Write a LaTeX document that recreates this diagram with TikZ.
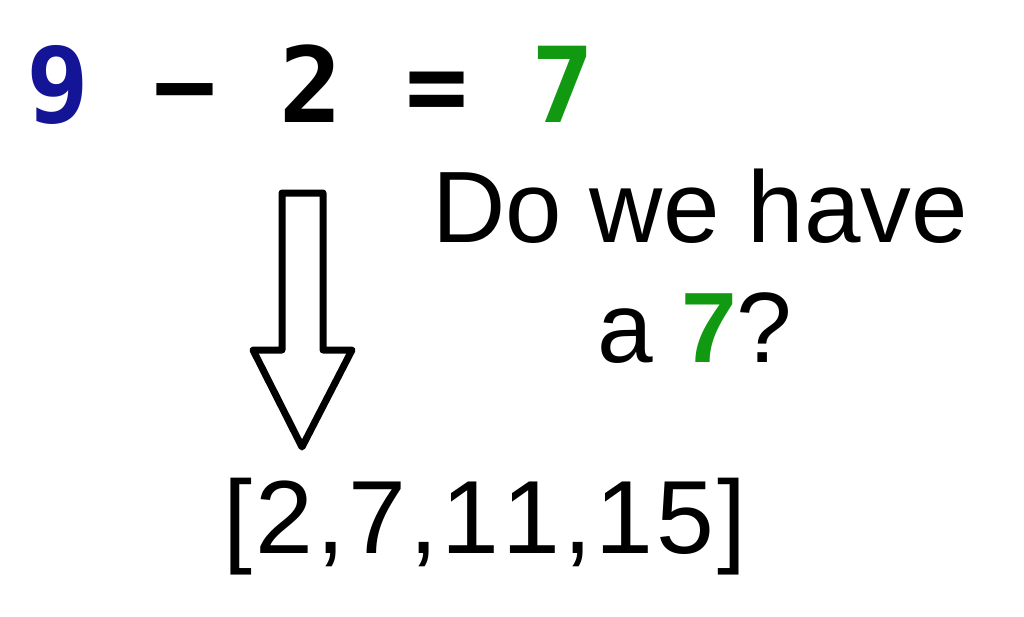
\documentclass[tikz,border=0pt]{standalone}
\usepackage{fontspec}
\setmainfont[Kerning=Off]{Liberation Sans}
\newfontfamily\monof{DejaVu Sans Mono}
\newfontfamily\listfont[Kerning=Off,LetterSpace=3]{Liberation Sans}
\definecolor{numblue}{RGB}{20,20,150}
\definecolor{numgreen}{RGB}{17,153,17}
\begin{document}
\begin{tikzpicture}[x=1pt,y=-1pt,
  txt/.style={inner sep=0pt,outer sep=0pt},
  arrowshape/.style={draw=black,line width=7pt,line join=round,fill=white}]
\useasboundingbox (0,0) rectangle (1024,616);
\node[txt,anchor=base west] (eq) at (27,122) {\monof\bfseries\fontsize{104.7}{110}\selectfont\textcolor{numblue}{9} − 2 = \textcolor{numgreen}{7}};
\node[txt,anchor=base] (q1) at (700,242) {\fontsize{101.5}{110}\selectfont Do we have};
\node[txt,anchor=base] (q2) at (695,362) {\fontsize{100}{110}\selectfont a \textcolor{numgreen}{\bfseries 7}?};
\node[txt,anchor=base] (arr) at (485,553) {\listfont\fontsize{104}{110}\selectfont [2,7,11,15]};
\draw[arrowshape] (282,193) -- (323,193) -- (323,350) -- (352,350) -- (302,447) -- (253,350) -- (282,350) -- cycle;
\end{tikzpicture}
\end{document}
